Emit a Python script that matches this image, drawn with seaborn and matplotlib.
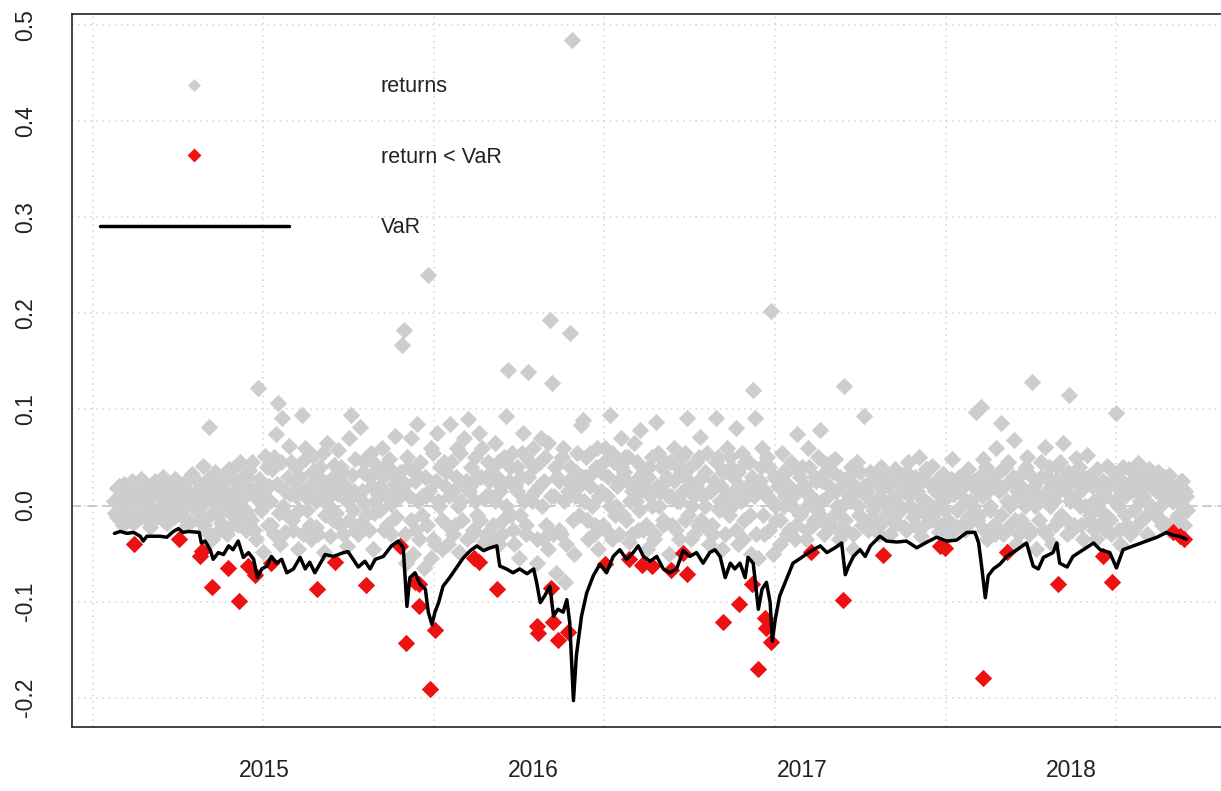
import numpy as np
import pandas as pd
import matplotlib
matplotlib.use("Agg")
import matplotlib.pyplot as plt
import seaborn as sns

# returns, in thousandths, one sample every 3 days from 2014-06-12
returns_pm = [
    5, -12, 20, 8, -20, 15, 2, -8, 25, 10,
    -15, 12, 28, -5, 3, 18, -22, 9, -10, 22,
    14, -6, 30, 0, -18, 11, 24, -12, 6, 17,
    -10, 20, 5, -20, 12, 33, -3, 8, -15, 19,
    41, -25, 10, 82, -35, 22, -8, 30, -18, 5,
    15, -30, 38, -10, 25, 0, -20, 45, 8, -5,
    30, 37, -15, 10, -35, 122, 20, -48, 5, 40,
    20, -20, 50, 74, 107, -40, 91, 15, -10, 62,
    45, -25, 10, -45, 30, 94, 60, -5, 20, -35,
    52, 5, -30, 40, 18, -48, 65, 0, 28, -15,
    25, 58, -20, 35, 10, -42, 70, 94, -5, 48,
    -30, 82, 15, 45, -10, 30, 55, -45, 5, 38,
    20, 60, -25, 42, 10, -30, 35, 72, 15, 28,
    167, 183, -60, 40, 70, -50, 25, 85, -35, 10,
    -65, 10, 240, -55, 55, -40, 75, 0, -45, 45,
    35, -40, 85, 15, -20, 60, -48, 5, 70, 25,
    90, 20, -30, 50, -10, 75, 30, -38, 10, 45,
    10, -35, 65, 30, -40, 20, -15, 93, 141, 40,
    55, -40, 15, -55, 30, 75, -20, 139, 45, 5,
    40, -60, 20, 70, -35, 50, -45, 193, 127, 10,
    -70, 25, -30, 60, -80, 15, 180, 484, -50, 35,
    20, 84, 89, 30, -15, 55, 0, -30, 40, -45,
    35, -20, 60, 10, 94, -35, 45, 0, 25, 70,
    -10, 50, 25, -38, 15, 65, 5, -25, 79, 35,
    20, -45, 40, 0, -30, 87, 55, 15, -20, 45,
    30, -50, 10, 60, -25, 40, 5, 50, -15, 91,
    25, -35, 10, 45, -20, 71, 30, 0, 55, -40,
    15, -30, 91, 50, 5, -45, 35, 60, -10, 40,
    30, 81, -40, 20, 55, -15, 10, 45, -50, 120,
    91, -55, 25, 60, -30, 10, 40, 202, -50, 0,
    20, -40, 55, 0, 35, -25, 45, 10, -35, 74,
    -10, 40, 15, -35, 60, 5, -20, 30, -5, 79,
    25, -30, 43, 10, -20, 35, 48, 0, -35, 20,
    124, -25, 30, 5, -45, 20, 45, -10, 15, 93,
    10, -25, 35, 0, -15, 25, -30, 40, 5, -10,
    20, -30, 8, 38, -18, 12, -5, 30, -25, 45,
    0, 28, -20, 15, 50, -32, 5, 35, -12, 22,
    41, -15, 25, -28, 10, 33, -5, 18, -30, 48,
    12, -22, 30, 0, 20, -25, 38, 5, -15, 25,
    97, -10, 102, 48, 20, -35, 0, 30, -20, 60,
    15, 86, -30, 40, 5, -20, 25, 68, -40, 10,
    -15, 35, 0, 50, -30, 129, 20, -45, 10, 30,
    -25, 61, 15, 40, -40, 5, 25, -15, 45, 65,
    20, -30, 115, 10, -20, 49, 35, 0, -35, 25,
    53, -15, 30, 5, -35, 20, -5, 15, -25, 41,
    20, -30, 35, 96, 0, -40, 25, 10, -20, 38,
    15, -25, 30, 44, 5, -15, 20, -30, 38, 0,
    25, -10, 35, 0, -20, 30, 10, -25, 20, 5,
    -15, 20, 5, 25, -20, 10,
]

# the in-between days of the dense core, same units, every 3 days from 2014-06-13
returns_pm_b = [
    -8, 18, 3, -15, 22, 10, -5, 14, -18, 6,
    12, -10, 2, 20, -14, 7, 15, -5, 26, -12,
    -3, 9, -16, 21, 4, -9, 13, 28, -2, 8,
    16, -12, 26, 2, -17, 7, 14, -6, 23, 0,
    -20, 15, 28, -10, 5, 35, -28, 12, 20, -5,
    28, 5, -22, 12, 40, -15, 18, -2, 30, -25,
    -10, 18, 45, -25, 8, 28, -5, 15, 52, -20,
    5, 38, -30, 22, -8, 45, 0, -28, 30, 12,
    -15, 25, 40, -5, 15, -30, 48, 8, -20, 35,
    18, -22, 30, 8, 55, -10, 22, -32, 12, 42,
    -8, 12, 40, -30, 20, 5, -15, 32, 15, -25,
    10, -18, 35, 2, 50, -25, 20, -8, 42, 12,
    -5, 30, 12, -20, 48, 2, 22, -12, 8, 35,
    20, -30, 50, 10, -15, 35, -25, 5, 45, -10,
    30, -20, 15, 60, -35, 25, 5, 40, -15, 20,
    -20, 10, 45, -30, 30, 0, 55, -15, 20, -35,
    15, 40, -25, 5, 30, -15, 60, 8, -30, 25,
    35, -20, 5, 45, 15, -30, 50, 0, 25, -10,
    -25, 20, 40, -10, 55, 5, -30, 30, 10, 60,
    15, -35, 45, 0, 25, -20, 65, 10, -30, 40,
    30, -25, 50, 5, -40, 25, 40, -15, 10, 55,
    -10, 30, 5, 50, -35, 20, 35, -20, 60, 10,
    15, 45, -25, 30, 0, 55, -10, 20, -30, 40,
    35, -15, 50, 5, -30, 25, 45, -5, 15, -25,
    -20, 30, 10, 50, -35, 20, 0, 40, -15, 25,
    10, 45, -20, 25, 5, -35, 35, 15, 55, -10,
    40, 0, -30, 20, 50, -15, 10, 35, -25, 15,
    -20, 25, 45, -5, 20, 35, -30, 10, 50, 0,
    15, -25, 35, 5, -35, 45, 20, -10, 30, 10,
    -30, 20, 40, -10, 15, 50, -25, 5, 30, -15,
    25, -15, 35, 10, -30, 20, 0, 40, -20, 15,
    30, -5, 20, -25, 40, 10, -15, 25, 50, -10,
    5, 35, -20, 20, 45, -10, 15, -25, 30, 0,
    -15, 25, 10, 40, -30, 15, 0, 35, -20, 20,
    15, -15, 25, -5, 30, 8, -20, 18, 32, 0,
    -10, 22, 5, -18, 28, 0, 15, -22, 35, 10,
    20, -12, 30, -5, 10, 25, -20, 38, 2, -15,
    -10, 15, 0, 30, -20, 22, 8, -15, 28, 12,
    25, -5, 15, -20, 32, 5, -12, 22, 0, 18,
    -15, 30, 10, -25, 40, 15, -5, 25, -30, 20,
    35, -10, 20, -25, 45, 0, 30, -15, 15, -30,
    20, -20, 40, 10, -25, 30, 0, 25, -15, 45,
    10, -30, 30, 0, 22, -20, 40, 15, -10, 28,
    -15, 35, 5, -25, 25, 12, 40, -20, 18, 0,
    30, -10, 20, -25, 38, 5, -18, 25, 10, -12,
    -15, 25, 5, 30, -25, 15, 40, -10, 20, -30,
    25, -5, 15, -18, 30, 10, -12, 22, 0, 35,
    -8, 15, 28, -15, 10, 20, -20, 32, 5, 15,
    10, -10, 25, 0, 15, -5,
]

# returns below VaR (days since 2014-06-01, value)
breach_day = [37, 99, 127, 130, 143, 165, 180, 192, 202, 224, 286, 311, 352, 399,
              407, 419, 424, 425, 439, 446, 499, 506, 530, 584, 586, 604, 606, 613,
              626, 677, 709, 727, 740, 767, 783, 788, 837, 859, 876, 884, 894, 896,
              902, 957, 1000, 1054, 1132, 1138, 1190, 1223, 1292, 1353, 1365, 1448,
              1457, 1463]
breach_val = [-0.040, -0.035, -0.053, -0.047, -0.085, -0.065, -0.099, -0.063, -0.072,
              -0.060, -0.087, -0.059, -0.083, -0.042, -0.143, -0.080, -0.082, -0.105,
              -0.191, -0.130, -0.055, -0.059, -0.087, -0.125, -0.133, -0.086, -0.121,
              -0.140, -0.132, -0.061, -0.056, -0.062, -0.063, -0.067, -0.049, -0.071,
              -0.121, -0.103, -0.082, -0.170, -0.117, -0.127, -0.142, -0.048, -0.098,
              -0.051, -0.042, -0.044, -0.180, -0.048, -0.082, -0.053, -0.080, -0.028,
              -0.032, -0.035]

# VaR line (days since 2014-06-01, value)
var_day = [11, 19, 28, 37, 46, 50, 55, 73, 82, 91, 98, 104, 111, 126, 129, 134, 141,
           145, 152, 159, 166, 172, 179, 186, 193, 200, 205, 211, 218, 224, 231, 238,
           245, 254, 263, 270, 276, 283, 292, 297, 308, 322, 328, 335, 342, 351, 358,
           365, 376, 387, 396, 403, 408, 412, 419, 426, 433, 437, 442, 446, 451, 457,
           466, 475, 484, 494, 503, 512, 521, 530, 534, 543, 552, 561, 571, 580, 584,
           589, 595, 602, 607, 613, 620, 625, 629, 634, 638, 645, 652, 661, 670, 679,
           688, 697, 706, 715, 722, 729, 738, 747, 756, 765, 774, 783, 792, 801, 810,
           819, 826, 833, 840, 847, 853, 860, 867, 871, 878, 885, 890, 896, 901, 904,
           908, 914, 923, 932, 942, 955, 969, 978, 989, 998, 1003, 1007, 1014, 1023,
           1030, 1037, 1050, 1059, 1073, 1086, 1100, 1114, 1127, 1141, 1154, 1168,
           1179, 1184, 1188, 1193, 1197, 1204, 1213, 1222, 1236, 1249, 1258, 1265,
           1272, 1285, 1290, 1294, 1304, 1312, 1326, 1340, 1349, 1362, 1371, 1380,
           1394, 1412, 1426, 1439, 1448, 1457, 1466]
var_val = [-0.029, -0.027, -0.029, -0.028, -0.032, -0.037, -0.032, -0.032, -0.033,
           -0.027, -0.024, -0.028, -0.027, -0.028, -0.039, -0.037, -0.046, -0.056,
           -0.049, -0.051, -0.042, -0.046, -0.037, -0.054, -0.049, -0.056, -0.075,
           -0.066, -0.063, -0.053, -0.060, -0.056, -0.070, -0.066, -0.054, -0.066,
           -0.059, -0.070, -0.058, -0.051, -0.053, -0.049, -0.048, -0.056, -0.064,
           -0.058, -0.066, -0.056, -0.053, -0.042, -0.037, -0.044, -0.105, -0.075,
           -0.070, -0.082, -0.087, -0.111, -0.124, -0.111, -0.101, -0.084, -0.075,
           -0.065, -0.055, -0.047, -0.042, -0.047, -0.044, -0.042, -0.063, -0.066,
           -0.070, -0.066, -0.071, -0.066, -0.080, -0.101, -0.094, -0.084, -0.115,
           -0.108, -0.111, -0.098, -0.122, -0.203, -0.156, -0.115, -0.091, -0.073,
           -0.061, -0.070, -0.053, -0.046, -0.056, -0.049, -0.042, -0.053, -0.058,
           -0.053, -0.066, -0.070, -0.066, -0.047, -0.053, -0.049, -0.060, -0.049,
           -0.046, -0.053, -0.075, -0.060, -0.066, -0.060, -0.075, -0.054, -0.060,
           -0.108, -0.087, -0.080, -0.101, -0.141, -0.118, -0.094, -0.077, -0.060,
           -0.055, -0.048, -0.042, -0.049, -0.044, -0.039, -0.072, -0.064, -0.053,
           -0.046, -0.053, -0.042, -0.032, -0.037, -0.038, -0.037, -0.044, -0.038,
           -0.033, -0.037, -0.036, -0.028, -0.028, -0.039, -0.063, -0.096, -0.073,
           -0.066, -0.061, -0.053, -0.046, -0.039, -0.063, -0.066, -0.054, -0.049,
           -0.039, -0.060, -0.064, -0.053, -0.046, -0.039, -0.046, -0.049, -0.065,
           -0.046, -0.042, -0.037, -0.033, -0.028, -0.031, -0.032, -0.035]

year_ticks = ["2015-01-01", "2016-01-01", "2017-01-01", "2018-01-01"]
year_labels = ["2015", "2016", "2017", "2018"]
y_ticks = [-0.2, -0.1, 0.0, 0.1, 0.2, 0.3, 0.4, 0.5]

origin = pd.Timestamp("2014-06-01")
def to_date(days):
    return origin + pd.to_timedelta(np.asarray(days, dtype=float), unit="D")

df_ret = pd.concat([
    pd.DataFrame({"date": pd.date_range("2014-06-12", periods=len(returns_pm), freq="3D"),
                  "ret": np.array(returns_pm) / 1000}),
    pd.DataFrame({"date": pd.date_range("2014-06-13", periods=len(returns_pm_b), freq="3D"),
                  "ret": np.array(returns_pm_b) / 1000}),
]).sort_values("date")
df_breach = pd.DataFrame({"date": to_date(breach_day), "ret": breach_val})
df_var = pd.DataFrame({"date": to_date(var_day), "var": var_val})

sns.set_style("white")
plt.rcParams["font.family"] = ["Liberation Sans", "DejaVu Sans"]
plt.rcParams["axes.unicode_minus"] = False

fig = plt.figure(figsize=(12.21, 7.91), dpi=100)
ax = fig.add_axes([72 / 1221, 64 / 791, 1157 / 1221, 713 / 791])

# grid like R's grid(): dotted lightgray
grid_x = pd.to_datetime([1.40e9, 1.42e9, 1.44e9, 1.46e9, 1.48e9, 1.50e9, 1.52e9], unit="s")
for gx in grid_x:
    ax.axvline(gx, color="#D3D3D3", lw=1.1, ls=(0, (1, 3)), zorder=0)
for gy in y_ticks:
    ax.axhline(gy, color="#D3D3D3", lw=1.1, ls=(0, (1, 3)), zorder=0)
ax.axhline(0, color="#BDBDBD", lw=1.1, ls=(0, (6, 4)), zorder=1)

sns.scatterplot(data=df_ret, x="date", y="ret", ax=ax, marker="D", s=78,
                color="#CDCDCD", linewidth=0, zorder=2)
sns.scatterplot(data=df_breach, x="date", y="ret", ax=ax, marker="D", s=78,
                color="#EE1111", linewidth=0, zorder=3)
sns.lineplot(data=df_var, x="date", y="var", ax=ax, color="black", lw=2.5,
             estimator=None, sort=False, zorder=4)

ax.set_xlim(to_date([-46.6])[0], to_date([1523.8])[0])
ax.set_ylim(-0.2305, 0.5115)
ax.set_xlabel("")
ax.set_ylabel("")

ax.set_xticks(pd.to_datetime(year_ticks))
ax.set_xticklabels(year_labels)
ax.set_yticks(y_ticks)
ax.set_yticklabels([f"{v:.1f}" for v in y_ticks], rotation=90, va="center")
ax.tick_params(axis="both", direction="out", length=13, width=1.2, color="#222222",
               labelsize=16.5, labelcolor="#222222")
ax.tick_params(axis="x", pad=10)
ax.tick_params(axis="y", pad=12)
for sp in ax.spines.values():
    sp.set_color("#222222")
    sp.set_linewidth(1.2)

# legend drawn by hand, no box, like R's legend(bty="n")
ax.scatter([0.1055], [0.9004], transform=ax.transAxes, marker="D", s=44,
           color="#CDCDCD", linewidth=0, clip_on=False)
ax.scatter([0.1055], [0.8022], transform=ax.transAxes, marker="D", s=50,
           color="#EE1111", linewidth=0, clip_on=False)
ax.plot([0.0244, 0.1874], [0.7027, 0.7027], transform=ax.transAxes, color="black", lw=2.5)
for ty, txt in [(0.899, "returns"), (0.7994, "return < VaR"), (0.6999, "VaR")]:
    ax.text(0.2668, ty, txt, transform=ax.transAxes, fontsize=15.5, va="center",
            ha="left", color="#222222")

fig.savefig("out.png", dpi=100)
